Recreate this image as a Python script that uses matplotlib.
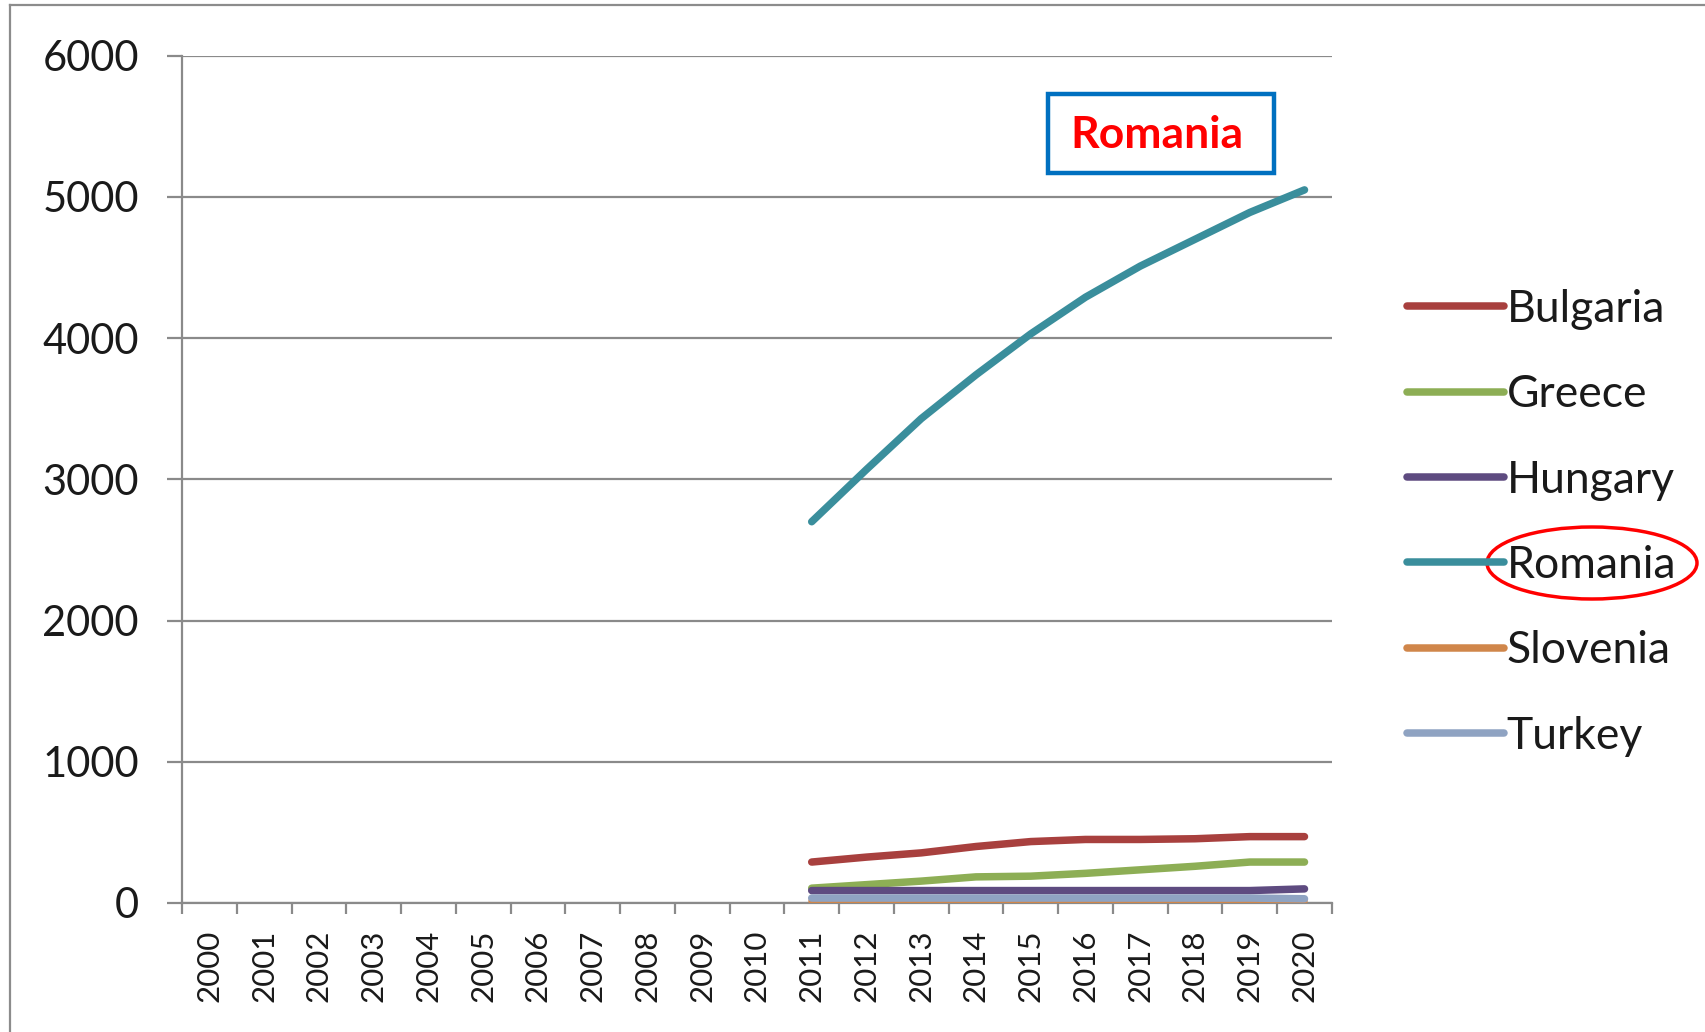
import numpy as np
import matplotlib
matplotlib.use("Agg")
import matplotlib.pyplot as plt
from matplotlib.lines import Line2D
from matplotlib.patches import Ellipse, Rectangle

plt.rcParams['font.family'] = ['Lato', 'DejaVu Sans']

years = [str(y) for y in range(2000, 2021)]
countries = ["Bulgaria", "Greece", "Hungary", "Romania", "Slovenia", "Turkey"]

# Data only exists from 2011 onwards; earlier years are empty
pad = [np.nan] * 11
bulgaria = pad + [290, 325, 355, 400, 435, 450, 450, 455, 470, 470]
greece   = pad + [105, 130, 155, 185, 190, 210, 235, 260, 290, 290]
hungary  = pad + [88, 88, 88, 88, 88, 88, 88, 88, 88, 100]
romania  = pad + [2700, 3070, 3430, 3740, 4030, 4290, 4510, 4700, 4890, 5050]
slovenia = pad + [12, 12, 12, 12, 12, 12, 12, 12, 12, 12]
turkey   = pad + [35, 35, 35, 35, 35, 35, 35, 35, 35, 30]

series = [bulgaria, greece, hungary, romania, slovenia, turkey]
colors = ["#A8403E", "#8DAE55", "#5E4B80", "#3A8E9C", "#D0864A", "#8FA3C2"]

y_ticks = [0, 1000, 2000, 3000, 4000, 5000, 6000]

grid_c = "#8A8A8A"
text_c = "#1A1A1A"
lw = 5.4

fig = plt.figure(figsize=(17.06, 10.32), dpi=100)
ax = fig.add_axes([0.1067, 0.125, 0.674, 0.821])

x = np.arange(len(years))
for vals, col, name in zip(series, colors, countries):
    ax.plot(x, vals, color=col, lw=lw, solid_capstyle='round', label=name, zorder=3)

ax.set_xlim(-0.5, len(years) - 0.5)
ax.set_ylim(0, 6000)
ax.set_yticks(y_ticks)
ax.set_yticklabels([str(v) for v in y_ticks], fontsize=30, color=text_c)
ax.yaxis.grid(True, color=grid_c, lw=1.6, zorder=1)
ax.tick_params(axis='y', length=11, width=1.6, color=grid_c, pad=20, direction='out')

ax.set_xticks(x)
ax.set_xticklabels(years, rotation=90, fontsize=22.5, color=text_c)
ax.set_xticks(np.arange(-0.5, len(years)), minor=True)
ax.tick_params(axis='x', which='major', length=0, pad=19)
ax.tick_params(axis='x', which='minor', length=8, width=1.6, color=grid_c, direction='out')

for s in ("top", "right"):
    ax.spines[s].set_visible(False)
for s in ("left", "bottom"):
    ax.spines[s].set_color(grid_c)
    ax.spines[s].set_linewidth(1.6)

leg = fig.legend(loc='center left', bbox_to_anchor=(0.8145, 0.4934), frameon=False,
                 fontsize=32, handlelength=2.18, handletextpad=0.06, labelspacing=1.0,
                 borderaxespad=0)
for line in leg.get_lines():
    line.set_linewidth(lw)
for t in leg.get_texts():
    t.set_color(text_c)

# Outer chart border (left and top edges visible)
fig.add_artist(Line2D([0.0059, 0.0059], [0.0, 0.9952], transform=fig.transFigure,
                      color="#8C8C8C", lw=1.6))
fig.add_artist(Line2D([0.0059, 1.0], [0.9952, 0.9952], transform=fig.transFigure,
                      color="#8C8C8C", lw=1.6))

# Callout box naming the highlighted series
fig.add_artist(Rectangle((1048 / 1706, 1 - 173 / 1032), 226 / 1706, 79 / 1032,
                         transform=fig.transFigure, fill=False, edgecolor="#0070C0", lw=3.2))
fig.text(1157 / 1706, 1 - 135 / 1032, "Romania", color="#FF0000", fontsize=32,
         fontweight='bold', ha='center', va='center')

# Red ring around the Romania legend entry
fig.add_artist(Ellipse((1592 / 1706, 1 - 563 / 1032), 210 / 1706, 72 / 1032,
                       transform=fig.transFigure, fill=False, edgecolor="#FF0000", lw=2.5))

fig.savefig("out.png", dpi=100, facecolor="white")
